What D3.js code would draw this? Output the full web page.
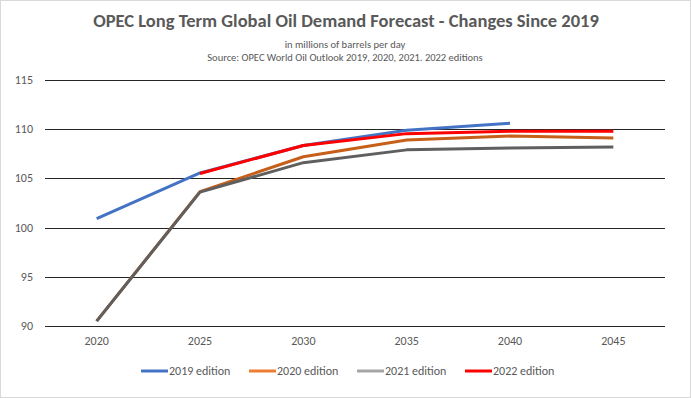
<!DOCTYPE html>
<html>
<head>
<meta charset="utf-8">
<script src="https://cdn.jsdelivr.net/npm/d3@7"></script>
<style>
  body { margin: 0; background: #fff; }
  text { font-family: Calibri, Carlito, "Liberation Sans Narrow", "Open Sans", sans-serif; fill: #595959; }
</style>
</head>
<body>
<div id="chart"></div>
<script>
var years = ["2020", "2025", "2030", "2035", "2040", "2045"];
var ed2019 = [100.9, 105.55, 108.35, 109.9, 110.6, null];
var ed2020 = [90.5, 103.65, 107.2, 108.9, 109.3, 109.1];
var ed2021 = [90.5, 103.6, 106.6, 107.9, 108.1, 108.2];
var ed2022 = [null, 105.5, 108.35, 109.55, 109.8, 109.8];
var seriesNames = ["2019 edition", "2020 edition", "2021 edition", "2022 edition"];
var yTicks = [90, 95, 100, 105, 110, 115];

var W = 691, H = 398;
var svg = d3.select("#chart").append("svg")
    .attr("width", W)
    .attr("height", H);

svg.append("rect")
    .attr("x", 0.5).attr("y", 0.5)
    .attr("width", W - 1).attr("height", H - 1)
    .attr("fill", "#fff")
    .attr("stroke", "#d9d9d9");

// titles
svg.append("text")
    .attr("x", 346).attr("y", 27)
    .attr("text-anchor", "middle")
    .attr("font-size", 18.5)
    .attr("font-weight", "bold")
    .text("OPEC Long Term Global Oil Demand Forecast - Changes Since 2019");
svg.append("text")
    .attr("x", 345).attr("y", 48)
    .attr("text-anchor", "middle")
    .attr("font-size", 10.5)
    .text("in millions of barrels per day");
svg.append("text")
    .attr("x", 345).attr("y", 61)
    .attr("text-anchor", "middle")
    .attr("font-size", 10.5)
    .text("Source: OPEC World Oil Outlook 2019, 2020, 2021. 2022 editions");

var x = d3.scalePoint()
    .domain(years)
    .range([45, 665])
    .padding(0.5);

var y = d3.scaleLinear()
    .domain([90, 115])
    .range([326, 80]);

// gridlines
svg.append("g")
    .selectAll("line")
    .data(yTicks)
    .enter().append("line")
    .attr("x1", 45).attr("x2", 665)
    .attr("y1", function(d) { return Math.round(y(d)) + 0.5; })
    .attr("y2", function(d) { return Math.round(y(d)) + 0.5; })
    .attr("stroke", "#262626")
    .attr("stroke-width", 1);

// y labels
svg.append("g")
    .selectAll("text")
    .data(yTicks)
    .enter().append("text")
    .attr("x", 33)
    .attr("y", function(d) { return y(d) + 4; })
    .attr("text-anchor", "end")
    .attr("font-size", 12)
    .text(function(d) { return d; });

// x labels
svg.append("g")
    .selectAll("text")
    .data(years)
    .enter().append("text")
    .attr("x", function(d) { return x(d); })
    .attr("y", 345)
    .attr("text-anchor", "middle")
    .attr("font-size", 12)
    .text(function(d) { return d; });

var line = d3.line()
    .defined(function(d) { return d.v != null; })
    .x(function(d) { return x(d.yr); })
    .y(function(d) { return y(d.v); });

function pts(arr) {
    return years.map(function(yr, i) { return { yr: yr, v: arr[i] }; });
}

var series = [
    { data: ed2019, line: "#4472c4", key: "#4472c4" },
    { data: ed2020, line: "#c65f19", key: "#ed7d31" },
    { data: ed2021, line: "#5f5f5f", key: "#a5a5a5" },
    { data: ed2022, line: "#ff0000", key: "#ff0000" }
];

series.forEach(function(s) {
    svg.append("path")
        .datum(pts(s.data))
        .attr("d", line)
        .attr("fill", "none")
        .attr("stroke", s.line)
        .attr("stroke-width", 3)
        .attr("stroke-linejoin", "round");
});

// legend
var legX = [141, 249, 357, 465];
series.forEach(function(s, i) {
    svg.append("line")
        .attr("x1", legX[i]).attr("x2", legX[i] + 27)
        .attr("y1", 371).attr("y2", 371)
        .attr("stroke", s.key)
        .attr("stroke-width", 3);
    svg.append("text")
        .attr("x", legX[i] + 28)
        .attr("y", 375)
        .attr("font-size", 12)
        .text(seriesNames[i]);
});
</script>
</body>
</html>
